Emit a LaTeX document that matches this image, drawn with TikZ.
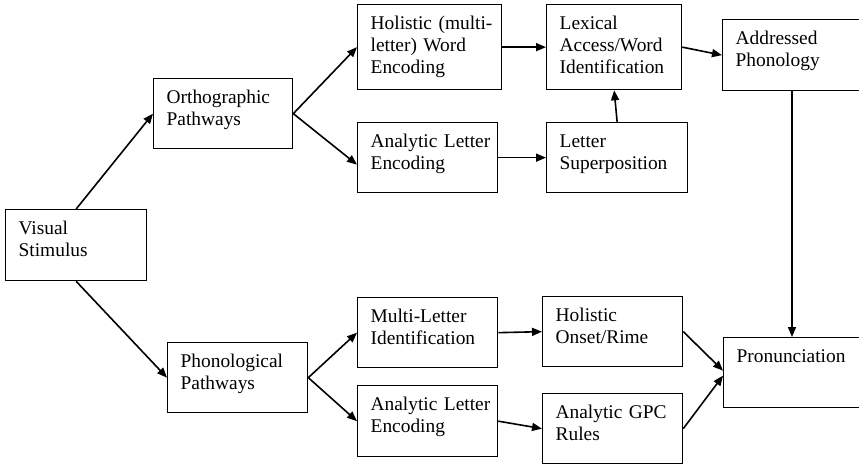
\documentclass[tikz,border=0pt]{standalone}
\usepackage{fontspec}
\setmainfont{Liberation Serif}
\usetikzlibrary{arrows.meta}
\tikzset{
  bx/.style 2 args={draw, line width=1.3pt, anchor=north west, rectangle,
    inner xsep=0pt, inner ysep=0pt, align=left,
    text width=#1pt, text height=24.5pt, text depth=#2pt,
    font=\fontsize{19.4}{22.1}\selectfont,
    execute at begin node={\leftskip=13pt}},
  arr/.style={line width=1.6pt, -{Triangle[length=10pt,width=8pt]}}
}
\begin{document}
\begin{tikzpicture}[x=1pt,y=-1pt]
\clip[use as bounding box] (0,0) rectangle (859,464);
\node[bx={141}{46.5}] (vis)  at (5,209)   {Visual\\Stimulus};
\node[bx={139}{45.5}] (orth) at (153,78)  {Orthographic\\Pathways};
\node[bx={144}{60.5}] (hol)  at (357,4)   {Holistic (multi-\\letter) Word\\Encoding};
\node[bx={140}{45.5}] (ale1) at (357,122) {Analytic Letter\\Encoding};
\node[bx={135}{60.5}] (lex)  at (546,4)   {Lexical\\Access/Word\\Identification};
\node[bx={141}{45.5}] (sup)  at (546,122) {Letter\\Superposition};
\node[bx={148}{46.5}] (addr) at (722,19)  {Addressed\\Phonology};
\node[bx={147}{45.5}] (pron) at (723,337) {Pronunciation};
\node[bx={140}{45.5}] (phon) at (167,342) {Phonological\\Pathways};
\node[bx={140}{45.5}] (mli)  at (357,297) {Multi-Letter\\Identification};
\node[bx={140}{46.5}] (ale2) at (357,385) {Analytic Letter\\Encoding};
\node[bx={140}{45.5}] (hor)  at (542,296) {Holistic\\Onset/Rime};
\node[bx={140}{45.5}] (gpc)  at (542,393) {Analytic GPC\\Rules};

\draw[arr] (vis.north) -- (orth.west);
\draw[arr] (vis.south) -- (phon.west);
\draw[arr] (orth.east) -- (hol.west);
\draw[arr] (orth.east) -- ([yshift=-7pt]ale1.west);
\draw[arr] (hol.east) -- (lex.west);
\draw[arr] (ale1.east) -- (sup.west);
\draw[arr] (sup.north) -- (lex.south);
\draw[arr] (lex.east) -- (addr.west);
\coordinate (adown) at ([xshift=70pt]addr.south west);
\draw[arr] (adown) -- (adown |- pron.north);
\draw[arr] (phon.east) -- (mli.west);
\draw[arr] (phon.east) -- (ale2.west);
\draw[arr] (mli.east) -- (hor.west);
\draw[arr] (ale2.east) -- (gpc.west);
\draw[arr] (hor.east) -- ([yshift=2pt]pron.west);
\draw[arr] (gpc.east) -- ([yshift=-3pt]pron.west);
\end{tikzpicture}
\end{document}
